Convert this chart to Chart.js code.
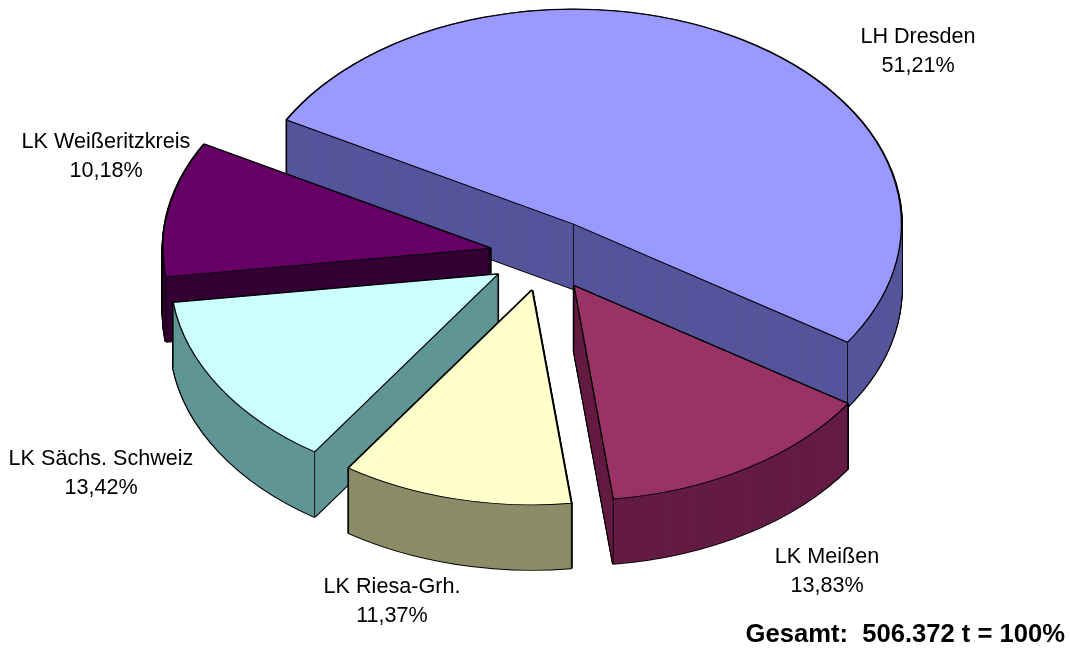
<!DOCTYPE html>
<html>
<head>
<meta charset="utf-8">
<title>Abfallaufkommen nach Gebietskörperschaft</title>
<script src="https://cdn.jsdelivr.net/npm/chart.js@4.4.1/dist/chart.umd.min.js"></script>
<style>
  html, body { margin: 0; padding: 0; background: #fff; }
  #wrap { width: 1070px; height: 650px; }
</style>
</head>
<body>
<div id="wrap"><canvas id="torte"></canvas></div>
<script>
// Daten
const regionen = ['LH Dresden', 'LK Meißen', 'LK Riesa-Grh.', 'LK Sächs. Schweiz', 'LK Weißeritzkreis'];
const anteile = [51.21, 13.83, 11.37, 13.42, 10.18];
const gesamtText = 'Gesamt:  506.372 t = 100%';

// Aussehen
const farbenOben = ['#9999ff', '#993366', '#ffffcc', '#ccffff', '#660066'];
const farbenSeite = ['#55559c', '#641c44', '#8c8c68', '#5f9595', '#330033'];
const labelPos = [[918, 37], [827, 557], [392, 587], [101, 459], [106, 142]];

const K = 0.655;        // Stauchung der Ellipse
const TIEFE = 65;       // Höhe der Stücke in px
const AUSRUECKEN = 55;  // Explosion
const RADIUS = 328;

const schrift = '21.6px "Liberation Sans", Arial, sans-serif';

// 3D-Torte: Seitenwände + Deckel über die ArcElemente zeichnen
const torte3d = {
    id: 'torte3d',
    beforeDatasetsDraw(chart) {
        const ctx = chart.ctx;
        const arcs = chart.getDatasetMeta(0).data;
        if (!arcs.length) return false;
        const cx = arcs[0].x, cy = arcs[0].y;
        const tiefe = TIEFE / K;

        const kopie = function(arc, opts) {
            const p = Object.create(arc);
            p.options = Object.assign({}, arc.options, opts);
            return p;
        };
        const mitte = a => (a.startAngle + a.endAngle) / 2;

        // von hinten nach vorne
        const reihenfolge = arcs.map((a, i) => i)
            .sort((a, b) => Math.sin(mitte(arcs[a])) - Math.sin(mitte(arcs[b])));

        ctx.save();
        ctx.translate(cx, cy);
        ctx.scale(1, K);
        ctx.translate(-cx, -cy);

        reihenfolge.forEach(function(i) {
            const arc = arcs[i];
            const m = mitte(arc);
            ctx.save();
            ctx.translate(Math.cos(m) * AUSRUECKEN, Math.sin(m) * AUSRUECKEN);

            // schwarzer Umriss
            const umriss = kopie(arc, { backgroundColor: '#000', borderColor: '#000', borderWidth: 2.6 });
            for (let d = TIEFE; d >= 0; d--) {
                ctx.save();
                ctx.translate(0, d / K);
                umriss.draw(ctx);
                ctx.restore();
            }
            // Seitenwand
            const seite = kopie(arc, { backgroundColor: farbenSeite[i], borderWidth: 0 });
            for (let d = TIEFE; d >= 1; d--) {
                ctx.save();
                ctx.translate(0, d / K);
                seite.draw(ctx);
                ctx.restore();
            }
            // senkrechte Kanten
            const r = arc.outerRadius;
            const ecken = [
                [arc.x, arc.y],
                [arc.x + Math.cos(arc.startAngle) * r, arc.y + Math.sin(arc.startAngle) * r],
                [arc.x + Math.cos(arc.endAngle) * r, arc.y + Math.sin(arc.endAngle) * r]
            ];
            ctx.strokeStyle = '#000';
            ctx.lineWidth = 1;
            ctx.beginPath();
            ecken.forEach(function(e) {
                ctx.moveTo(e[0], e[1]);
                ctx.lineTo(e[0], e[1] + tiefe);
            });
            ctx.stroke();

            // Deckel
            arc.draw(ctx);
            ctx.restore();
        });

        ctx.restore();
        return false;
    },
    afterDraw(chart) {
        const ctx = chart.ctx;
        ctx.save();
        ctx.fillStyle = '#000';
        ctx.font = schrift;
        ctx.textAlign = 'center';
        ctx.textBaseline = 'middle';
        regionen.forEach(function(name, i) {
            const p = labelPos[i];
            ctx.fillText(name, p[0], p[1]);
            ctx.fillText(anteile[i].toFixed(2).replace('.', ',') + '%', p[0], p[1] + 29);
        });
        ctx.font = 'bold 25.6px "Liberation Sans", Arial, sans-serif';
        ctx.textAlign = 'right';
        ctx.fillText(gesamtText, 1065, 635);
        ctx.restore();
    }
};

const torteCtx = document.getElementById('torte').getContext('2d');
const torte = new Chart(torteCtx, {
    type: 'pie',
    data: {
        labels: regionen,
        datasets: [{
            data: anteile,
            backgroundColor: farbenOben,
            borderColor: '#000',
            borderWidth: 1.4,
            clip: false
        }]
    },
    options: {
        responsive: true,
        maintainAspectRatio: false,
        animation: false,
        events: [],
        rotation: 299,
        radius: RADIUS,
        layout: {
            padding: { left: 20, right: 0, top: 0, bottom: 140 }
        },
        plugins: {
            legend: { display: false },
            tooltip: { enabled: false }
        }
    },
    plugins: [torte3d]
});
</script>
</body>
</html>
